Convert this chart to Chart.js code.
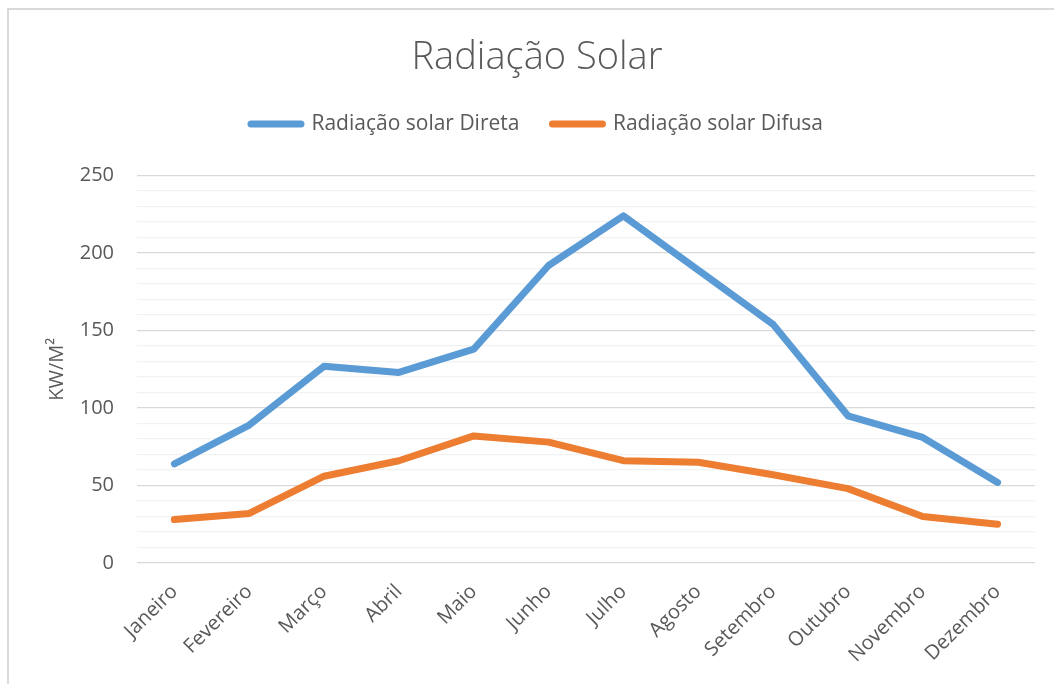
<!DOCTYPE html>
<html>
<head>
<meta charset="utf-8">
<script src="https://cdn.jsdelivr.net/npm/chart.js@4"></script>
<style>
  html, body { margin: 0; padding: 0; background: #fff; }
  #frame { position: absolute; left: 7px; top: 8px; width: 1060px; height: 690px; border: 2px solid #d9d9d9; box-sizing: border-box; }
  #wrap { position: absolute; left: 0; top: 0; width: 1054px; height: 684px; }
</style>
</head>
<body>
<div id="frame"></div>
<div id="wrap"><canvas id="solar-chart" width="1054" height="684"></canvas></div>
<script>
// dados do gráfico
const meses = ['Janeiro', 'Fevereiro', 'Março', 'Abril', 'Maio', 'Junho', 'Julho', 'Agosto', 'Setembro', 'Outubro', 'Novembro', 'Dezembro'];
const radiacaoDireta = [64, 89, 127, 123, 138, 192, 224, 189, 154, 95, 81, 52];
const radiacaoDifusa = [28, 32, 56, 66, 82, 78, 66, 65, 57, 48, 30, 25];
const yMin = 0;
const yMax = 250;

const cinza = '#595959';
const fonte = "'Open Sans', 'DejaVu Sans', sans-serif";

// espaço extra entre a legenda e a área do gráfico
const legendaEspaco = {
    id: 'legendaEspaco',
    beforeInit(chart) {
        const legend = chart.legend;
        if (!legend) return;
        const fitOriginal = legend.fit;
        legend.fit = function () {
            fitOriginal.call(this);
            this.height += 31;
        };
    }
};

const ctx = document.getElementById('solar-chart').getContext('2d');
window.solarChart = new Chart(ctx, {
    type: 'line',
    data: {
        labels: meses,
        datasets: [
            {
                label: 'Radiação solar Direta',
                data: radiacaoDireta,
                borderColor: '#5B9BD5',
                backgroundColor: '#5B9BD5',
                borderWidth: 7,
                borderCapStyle: 'round',
                borderJoinStyle: 'round',
                pointRadius: 0,
                tension: 0
            },
            {
                label: 'Radiação solar Difusa',
                data: radiacaoDifusa,
                borderColor: '#ED7D31',
                backgroundColor: '#ED7D31',
                borderWidth: 7,
                borderCapStyle: 'round',
                borderJoinStyle: 'round',
                pointRadius: 0,
                tension: 0
            }
        ]
    },
    options: {
        responsive: false,
        animation: false,
        layout: {
            padding: { left: 39, right: 19, top: 0, bottom: 0 }
        },
        scales: {
            x: {
                offset: true,
                grid: { display: false },
                border: { display: false },
                ticks: {
                    color: cinza,
                    font: { family: fonte, size: 20 },
                    minRotation: 45,
                    maxRotation: 45,
                    padding: 9
                },
                afterFit: (scale) => { scale.height = 121; }
            },
            y: {
                min: yMin,
                max: yMax,
                border: { display: false },
                grid: {
                    drawTicks: false,
                    color: (c) => (c.tick && c.tick.value % 50 === 0) ? '#d9d9d9' : '#f2f2f2',
                    lineWidth: 1.3
                },
                ticks: {
                    stepSize: 10,
                    autoSkip: false,
                    color: cinza,
                    font: { family: fonte, size: 20 },
                    padding: 23,
                    callback: (v) => v % 50 === 0 ? v : ''
                },
                title: {
                    display: true,
                    text: 'KW/M²',
                    color: cinza,
                    font: { family: fonte, size: 20 },
                    padding: { top: 6, bottom: 0 }
                },
                afterFit: (scale) => { scale.width = 98; }
            }
        },
        plugins: {
            title: {
                display: true,
                text: 'Radiação Solar',
                color: cinza,
                font: { family: fonte, size: 38, weight: 300 },
                padding: { top: 35, bottom: 0 }
            },
            legend: {
                position: 'top',
                labels: {
                    color: cinza,
                    font: { family: fonte, size: 21 },
                    boxWidth: 50,
                    boxHeight: 0,
                    padding: 33
                }
            },
            tooltip: { enabled: false }
        }
    },
    plugins: [legendaEspaco]
});
</script>
</body>
</html>
